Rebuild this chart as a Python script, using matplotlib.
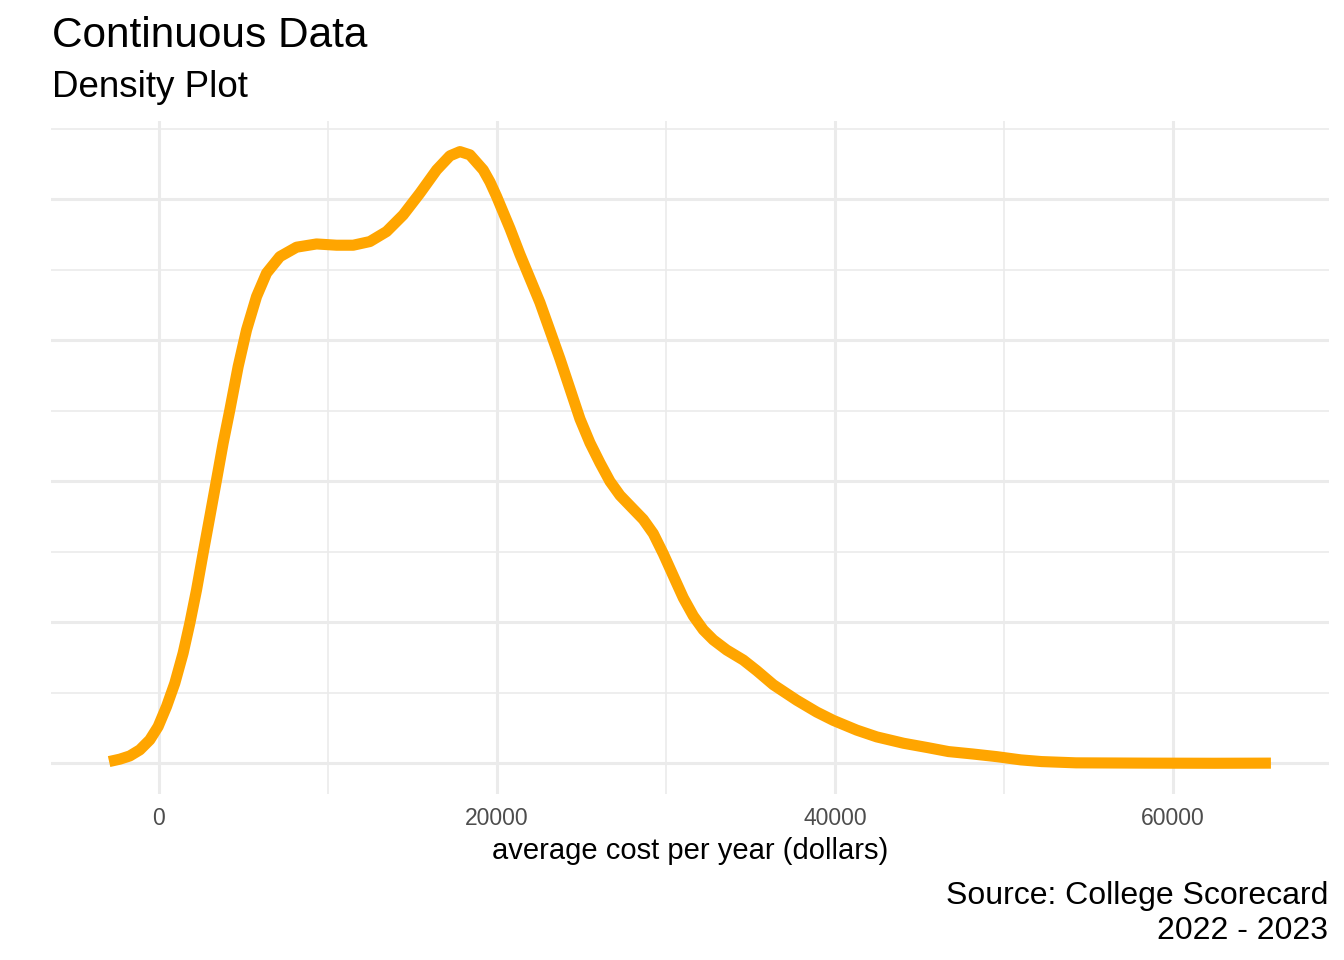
import matplotlib
matplotlib.use("Agg")
import matplotlib.pyplot as plt
from matplotlib.ticker import MultipleLocator

plt.rcParams['font.family'] = ['Liberation Sans', 'DejaVu Sans']

# density curve (cost in dollars, density in units of 1e-5)
cost = [-2941, -2308, -1716, -1124, -533, -41, 456, 947, 1438, 1834,
        2231, 2621, 3018, 3414, 3805, 4201, 4692, 5189, 5781, 6373,
        7160, 8148, 9331, 10515, 11497, 12485, 13473, 14456, 15444, 16432,
        17219, 17811, 18402, 19189, 19586, 19982, 20769, 21361, 21953, 22544,
        23136, 23728, 24320, 24911, 25503, 26095, 26686, 27278, 27970, 28656,
        29248, 29840, 30431, 31023, 31615, 32207, 32798, 33591, 34574, 35366,
        36348, 37733, 38916, 39899, 41284, 42467, 44047, 45478, 46704, 48129,
        49561, 50987, 52212, 54253, 58331, 62413, 65779]
density_e5 = [0.013, 0.030, 0.053, 0.096, 0.167, 0.261, 0.403, 0.569, 0.782, 0.994,
              1.230, 1.491, 1.750, 2.011, 2.271, 2.507, 2.814, 3.074, 3.311, 3.477,
              3.594, 3.661, 3.684, 3.675, 3.675, 3.701, 3.772, 3.890, 4.044, 4.209,
              4.309, 4.339, 4.316, 4.209, 4.124, 4.020, 3.794, 3.610, 3.439, 3.268,
              3.069, 2.869, 2.656, 2.443, 2.273, 2.131, 2.000, 1.901, 1.815, 1.730,
              1.630, 1.487, 1.330, 1.174, 1.046, 0.947, 0.876, 0.804, 0.733, 0.658,
              0.558, 0.448, 0.364, 0.305, 0.236, 0.188, 0.143, 0.112, 0.084, 0.067,
              0.048, 0.025, 0.013, 0.004, 0.002, 0.001, 0.002]

x_ticks = [0, 20000, 40000, 60000]
x_tick_labels = ['0', '20000', '40000', '60000']

W, H = 1344, 960
fig = plt.figure(figsize=(W / 100, H / 100), dpi=100)
fig.patch.set_facecolor('white')

# panel in pixels: left 51, right 1329, top 121, bottom 794
ax = fig.add_axes([51 / W, 1 - 794 / H, (1329 - 51) / W, (794 - 121) / H])
ax.set_facecolor('white')

ax.plot(cost, density_e5, color='#FFA500', lw=8, solid_capstyle='butt',
        solid_joinstyle='round', zorder=3)

# ggplot style 5% expansion
xr = max(cost) - min(cost)
ax.set_xlim(min(cost) - 0.05 * xr, max(cost) + 0.05 * xr)
yr = max(density_e5) - 0
ax.set_ylim(-0.05 * yr, max(density_e5) + 0.05 * yr)

ax.set_xticks(x_ticks)
ax.set_xticklabels(x_tick_labels)
ax.xaxis.set_minor_locator(MultipleLocator(10000))
ax.yaxis.set_major_locator(MultipleLocator(1))
ax.yaxis.set_minor_locator(MultipleLocator(0.5))
ax.set_yticklabels([])

ax.grid(which='major', color='#EBEBEB', lw=2.2)
ax.grid(which='minor', color='#EBEBEB', lw=1.2)
ax.set_axisbelow(True)
ax.tick_params(which='both', length=0)
ax.tick_params(axis='x', labelsize=16.5, labelcolor='#4D4D4D', pad=9.5)
for s in ax.spines.values():
    s.set_visible(False)

# titles and caption
fig.text(52 / W, 1 - 47 / H, 'Continuous Data', fontsize=30.5, va='baseline', ha='left')
fig.text(52 / W, 1 - 97 / H, 'Density Plot', fontsize=26.5, va='baseline', ha='left')
fig.text(690 / W, 1 - 859 / H, 'average cost per year (dollars)', fontsize=21,
         va='baseline', ha='center')
fig.text(1328 / W, 1 - 904 / H, 'Source: College Scorecard', fontsize=23,
         va='baseline', ha='right')
fig.text(1328 / W, 1 - 939 / H, '2022 - 2023', fontsize=23,
         va='baseline', ha='right')

fig.savefig('out.png', dpi=100)
